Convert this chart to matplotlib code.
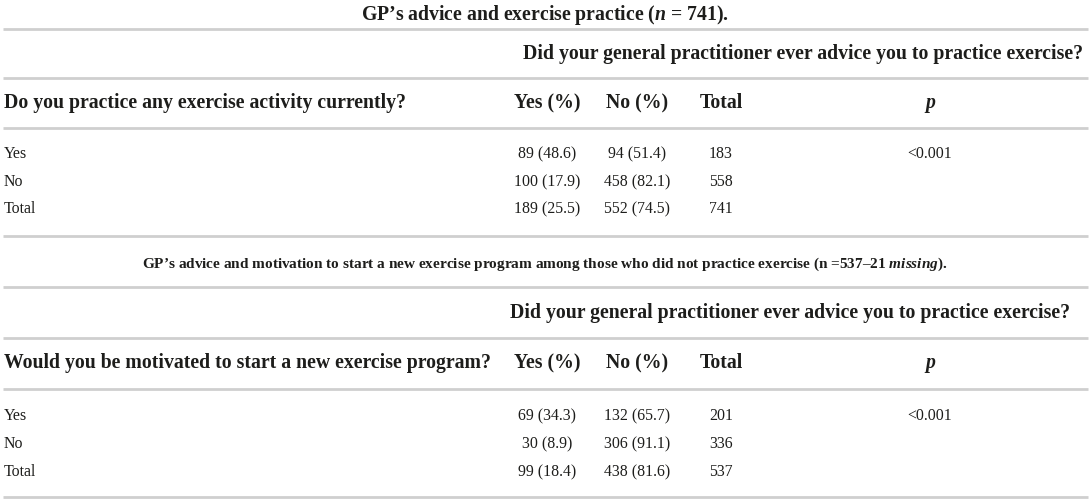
import matplotlib
matplotlib.use('Agg')
import matplotlib.pyplot as plt

plt.rcParams['font.family'] = 'Liberation Serif'
plt.rcParams['mathtext.fontset'] = 'custom'
plt.rcParams['mathtext.rm'] = 'Liberation Serif'
plt.rcParams['mathtext.it'] = 'Liberation Serif:italic'
plt.rcParams['mathtext.bf'] = 'Liberation Serif:bold'
try:
    plt.rcParams['mathtext.bfit'] = 'Liberation Serif:italic:bold'
except KeyError:
    pass

# table text / values
title1 = "GP’s advice and exercise practice ($\\mathbfit{n}$ = 741)."
title2 = ("GP’s advice and motivation to start a new exercise program among those "
          "who did not practice exercise (n =537–21 $\\mathbfit{missing}$).")
gp_question = "Did your general practitioner ever advice you to practice exercise?"
col_heads = ["Yes (%)", "No (%)", "Total"]
row_labels = ["Yes", "No", "Total"]

t1_question = "Do you practice any exercise activity currently?"
t1_yes_n = [89, 100, 189]
t1_yes_pct = [48.6, 17.9, 25.5]
t1_no_n = [94, 458, 552]
t1_no_pct = [51.4, 82.1, 74.5]
t1_total = [183, 558, 741]
t1_p = ["<0.001", "", ""]

t2_question = "Would you be motivated to start a new exercise program?"
t2_yes_n = [69, 30, 99]
t2_yes_pct = [34.3, 8.9, 18.4]
t2_no_n = [132, 306, 438]
t2_no_pct = [65.7, 91.1, 81.6]
t2_total = [201, 336, 537]
t2_p = ["<0.001", "", ""]

W, H = 1091, 502
fig = plt.figure(figsize=(W / 100, H / 100), dpi=100)
ax = fig.add_axes([0, 0, 1, 1])
ax.set_xlim(0, W)
ax.set_ylim(H, 0)
ax.axis('off')
renderer = fig.canvas.get_renderer()


def put(x, y, s, width=None, size=10, ha='left', **kw):
    t = ax.text(x, y, s, ha=ha, va='center', fontsize=size, color='#1d1d1b', **kw)
    if width:
        w = t.get_window_extent(renderer).width
        t.set_fontsize(size * width / w)
    return t


def fitted(s, width, **kw):
    t = put(W / 2, H / 2, s, width=width, **kw)
    size = t.get_fontsize()
    t.remove()
    return size


# common sizes fitted to the picture
data_size = fitted("89 (48.6)", 58)
head_size = fitted(gp_question, 560, fontweight='bold')

col_x = [547, 637, 721, 930]
line_color = '#cfcfcf'


def section(ys, title, title_w, question, yes_n, yes_pct, no_n, no_pct,
            total, pvals, q_right):
    y_title, y_gp, y_head, rows, rules = ys
    if title_w:
        put(545, y_title, title, width=title_w, ha='center', fontweight='bold')
    else:
        put(545, y_title, title, size=head_size, ha='center', fontweight='bold')
    ax.hlines(rules, 3, 1088, color=line_color, lw=2)
    put(q_right, y_gp, gp_question, size=head_size, ha='right', fontweight='bold')
    put(4, y_head, question, size=head_size, fontweight='bold')
    for x, h in zip(col_x, col_heads):
        put(x, y_head, h, size=head_size, ha='center', fontweight='bold')
    put(col_x[3], y_head, "p", size=head_size, ha='center', fontweight='bold', fontstyle='italic')
    for i, y in enumerate(rows):
        put(4, y, row_labels[i], size=data_size)
        put(col_x[0], y, f"{yes_n[i]} ({yes_pct[i]})", size=data_size, ha='center')
        put(col_x[1], y, f"{no_n[i]} ({no_pct[i]})", size=data_size, ha='center')
        put(col_x[2], y, f"{total[i]}", size=data_size, ha='center')
        if pvals[i]:
            put(col_x[3], y, pvals[i], size=data_size, ha='center')


section((15, 54, 103, [154, 182, 209], [30, 79, 129, 237]),
        title1, None, t1_question,
        t1_yes_n, t1_yes_pct, t1_no_n, t1_no_pct, t1_total, t1_p, 1083)
section((264, 313, 363, [416, 444, 472], [288, 339, 390, 498]),
        title2, 806, t2_question,
        t2_yes_n, t2_yes_pct, t2_no_n, t2_no_pct, t2_total, t2_p, 1070)

fig.savefig('out.png', dpi=100, facecolor='white')
